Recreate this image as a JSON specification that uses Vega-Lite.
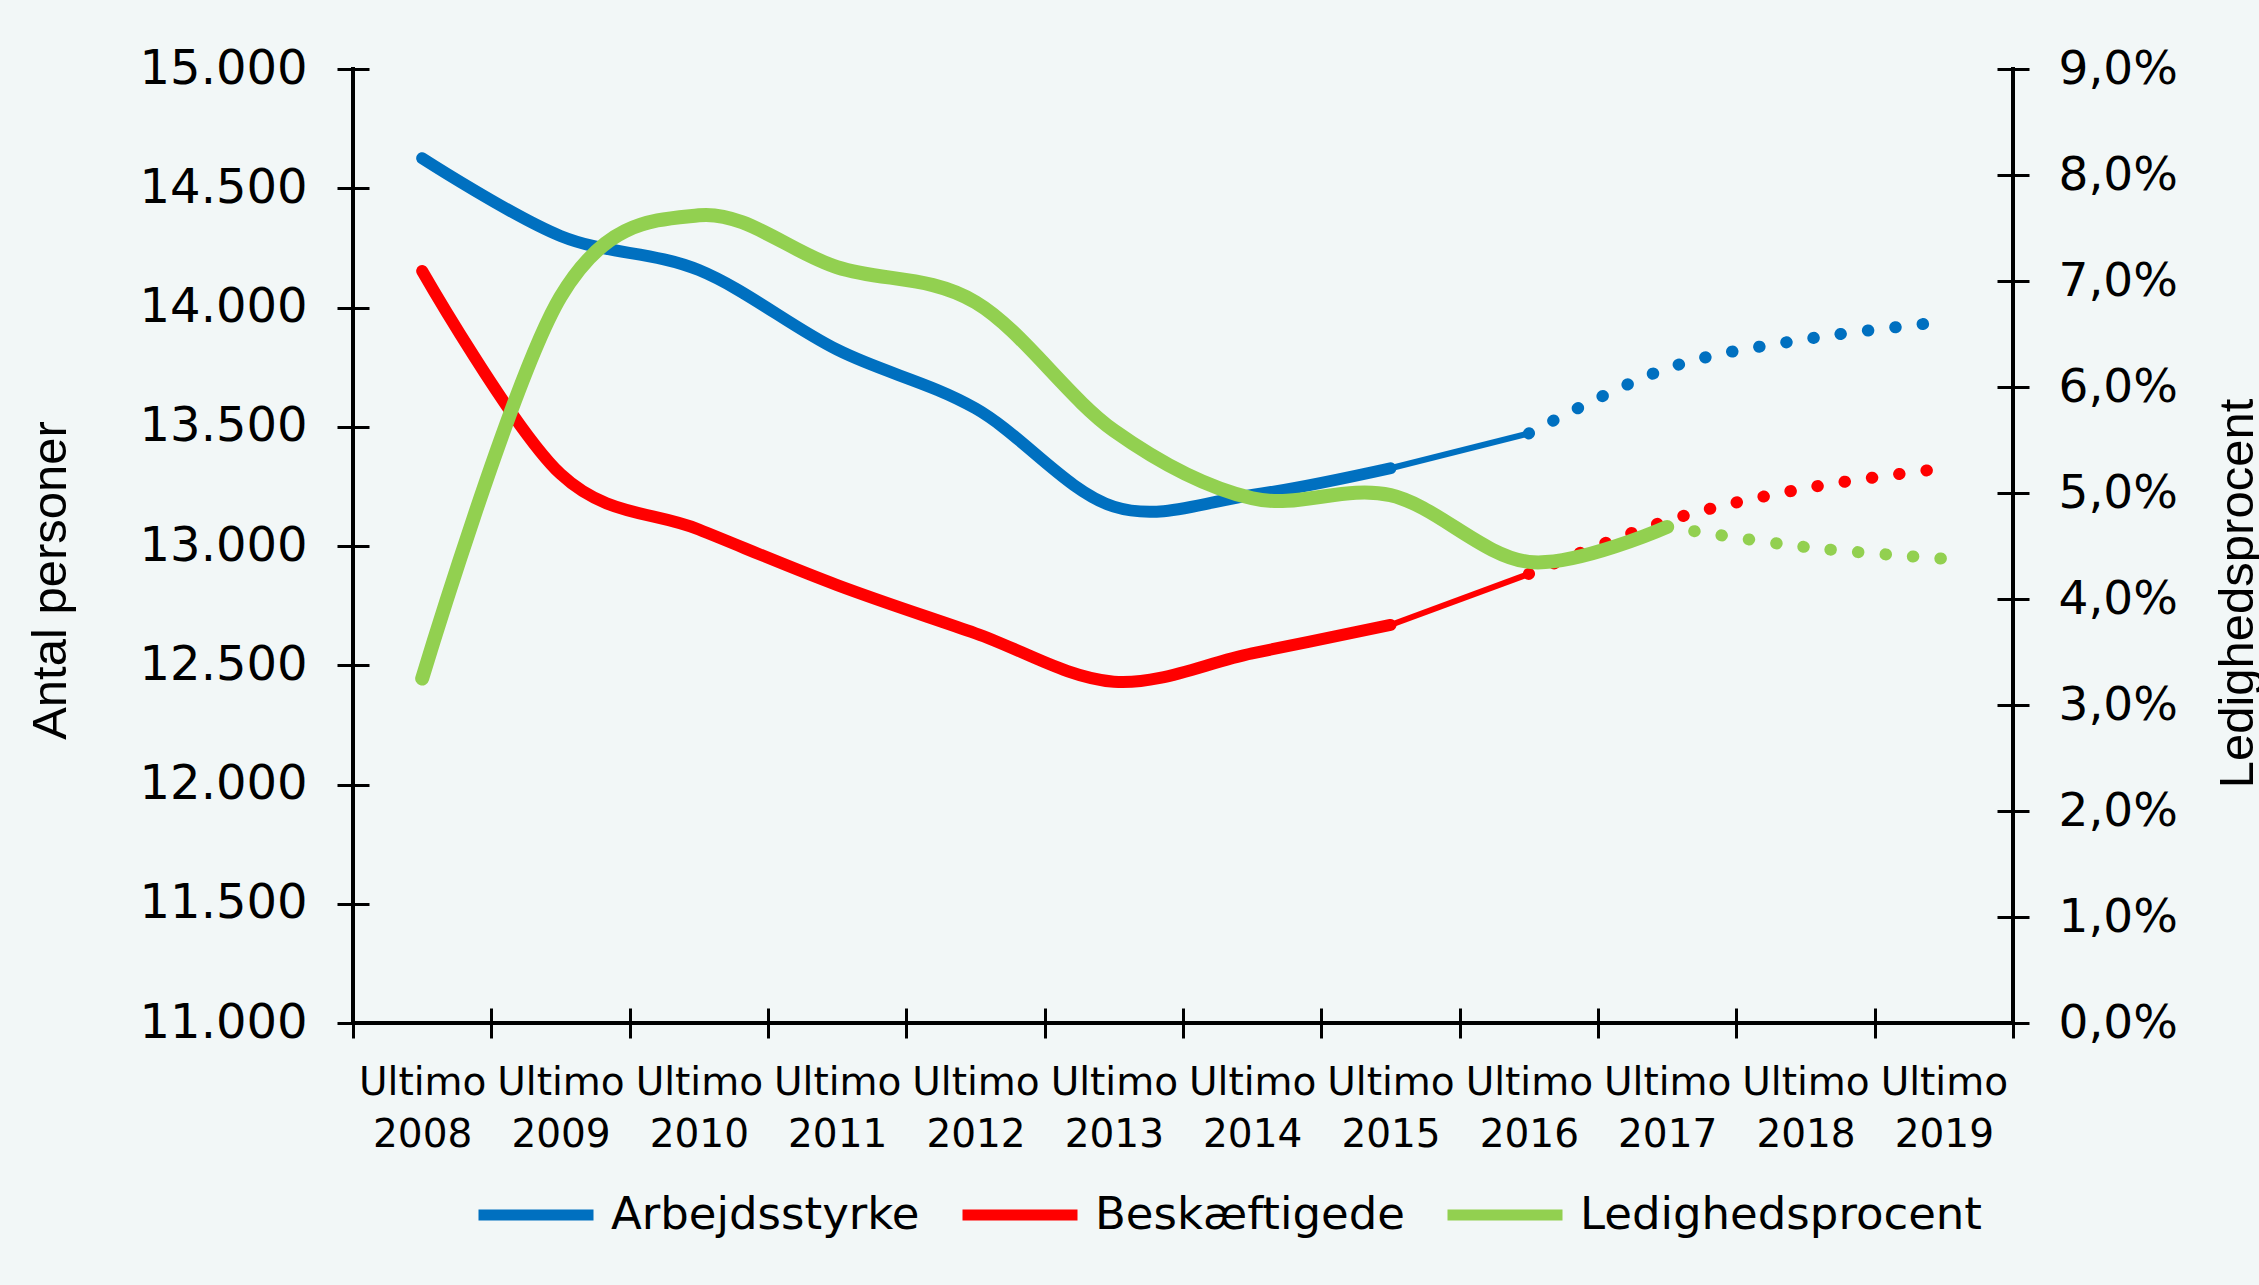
{
  "$schema": "https://vega.github.io/schema/vega-lite/v6.json",
  "width": 1660,
  "height": 954,
  "autosize": {"type": "none"},
  "padding": {"left": 353, "top": 69, "right": 246, "bottom": 262},
  "background": "#f2f7f7",
  "config": {
    "view": {"stroke": null},
    "locale": {"number": {"decimal": ",", "thousands": ".", "grouping": [3], "currency": ["", " kr."]}},
    "axis": {"grid": false}
  },
  "data": {
    "values": [
      {"periode": "Ultimo 2008", "aar": 2008, "Arbejdsstyrke": 14626, "Beskæftigede": 14153, "Ledighedsprocent": 0.0325},
      {"periode": "Ultimo 2009", "aar": 2009, "Arbejdsstyrke": 14300, "Beskæftigede": 13302, "Ledighedsprocent": 0.0685},
      {"periode": "Ultimo 2010", "aar": 2010, "Arbejdsstyrke": 14157, "Beskæftigede": 13069, "Ledighedsprocent": 0.0762},
      {"periode": "Ultimo 2011", "aar": 2011, "Arbejdsstyrke": 13823, "Beskæftigede": 12836, "Ledighedsprocent": 0.0713},
      {"periode": "Ultimo 2012", "aar": 2012, "Arbejdsstyrke": 13577, "Beskæftigede": 12634, "Ledighedsprocent": 0.0680},
      {"periode": "Ultimo 2013", "aar": 2013, "Arbejdsstyrke": 13165, "Beskæftigede": 12431, "Ledighedsprocent": 0.0559},
      {"periode": "Ultimo 2014", "aar": 2014, "Arbejdsstyrke": 13214, "Beskæftigede": 12550, "Ledighedsprocent": 0.0495},
      {"periode": "Ultimo 2015", "aar": 2015, "Arbejdsstyrke": 13326, "Beskæftigede": 12669, "Ledighedsprocent": 0.0498},
      {"periode": "Ultimo 2016", "aar": 2016, "Arbejdsstyrke": 13472, "Beskæftigede": 12883, "Ledighedsprocent": 0.0435},
      {"periode": "Ultimo 2017", "aar": 2017, "Arbejdsstyrke": 13745, "Beskæftigede": 13106, "Ledighedsprocent": 0.0468},
      {"periode": "Ultimo 2018", "aar": 2018, "Arbejdsstyrke": 13867, "Beskæftigede": 13242, "Ledighedsprocent": 0.0449},
      {"periode": "Ultimo 2019", "aar": 2019, "Arbejdsstyrke": 13940, "Beskæftigede": 13326, "Ledighedsprocent": 0.0438}
    ]
  },
  "resolve": {"scale": {"y": "independent"}, "axis": {"y": "independent"}},
  "layer": [
    {
      "transform": [
        {"filter": "datum.aar <= 2015"},
        {"fold": ["Arbejdsstyrke", "Beskæftigede"], "as": ["serie", "antal"]}
      ],
      "mark": {"type": "line", "strokeWidth": 12, "interpolate": "cardinal", "strokeCap": "round"},
      "encoding": {
        "x": {
          "field": "periode", "type": "nominal", "bandPosition": 0.5,
          "scale": {"type": "band", "paddingInner": 0, "paddingOuter": 0},
          "axis": {
            "orient": "bottom", "offset": -15, "domain": false, "tickBand": "extent",
            "tickSize": 30, "tickWidth": 3, "tickColor": "black",
            "labelExpr": "split(datum.label, ' ')", "labelFont": "DejaVu Sans", "labelFontSize": 39,
            "labelColor": "black", "labelLineHeight": 52, "labelPadding": 25, "labelAngle": 0,
            "labelOverlap": false, "labelBound": false, "title": null, "grid": false
          }
        },
        "y": {
          "field": "antal", "type": "quantitative",
          "scale": {"domain": [11000, 15000], "nice": false, "zero": false},
          "axis": {
            "orient": "left",
            "values": [11000, 11500, 12000, 12500, 13000, 13500, 14000, 14500, 15000],
            "format": ",.0f", "domain": false, "offset": -16, "tickSize": 32, "tickWidth": 3, "tickColor": "black",
            "labelFont": "DejaVu Sans", "labelFontSize": 48, "labelColor": "black", "labelPadding": 30,
            "labelOverlap": false, "labelLimit": 400,
            "title": "Antal personer", "titleFont": "Liberation Sans", "titleFontSize": 49,
            "titleFontWeight": "normal", "titleColor": "black", "titleAngle": 270,
            "titleBaseline": "alphabetic", "titleX": -304, "titleY": 511, "grid": false
          }
        },
        "color": {
          "field": "serie", "type": "nominal",
          "scale": {"domain": ["Arbejdsstyrke", "Beskæftigede", "Ledighedsprocent"], "range": ["#0070c0", "#ff0000", "#92d050"]},
          "legend": {
            "orient": "none", "legendX": 120, "legendY": 1083, "direction": "horizontal", "title": null,
            "symbolType": "stroke", "symbolSize": 13225, "symbolStrokeWidth": 11, "symbolDash": [],
            "labelFont": "DejaVu Sans", "labelFontSize": 45, "labelColor": "black", "labelOffset": 12,
            "labelLimit": 600, "columnPadding": 20, "padding": 0
          }
        }
      }
    },
    {
      "transform": [
        {"filter": "datum.aar >= 2015 && datum.aar <= 2016"},
        {"fold": ["Arbejdsstyrke", "Beskæftigede"], "as": ["serie", "antal"]}
      ],
      "mark": {"type": "line", "strokeWidth": 6, "interpolate": "cardinal"},
      "encoding": {
        "x": {"field": "periode", "type": "nominal", "bandPosition": 0.5, "scale": {"type": "band", "paddingInner": 0, "paddingOuter": 0}},
        "y": {"field": "antal", "type": "quantitative", "scale": {"domain": [11000, 15000], "nice": false, "zero": false}, "axis": null},
        "color": {"field": "serie", "type": "nominal", "legend": null}
      }
    },
    {
      "transform": [
        {"filter": "datum.aar >= 2016"},
        {"fold": ["Arbejdsstyrke", "Beskæftigede"], "as": ["serie", "antal"]}
      ],
      "mark": {"type": "line", "strokeWidth": 12, "interpolate": "cardinal", "strokeCap": "round", "strokeDash": [0.5, 27]},
      "encoding": {
        "x": {"field": "periode", "type": "nominal", "bandPosition": 0.5, "scale": {"type": "band", "paddingInner": 0, "paddingOuter": 0}},
        "y": {"field": "antal", "type": "quantitative", "scale": {"domain": [11000, 15000], "nice": false, "zero": false}, "axis": null},
        "color": {"field": "serie", "type": "nominal", "legend": null}
      }
    },
    {
      "transform": [
        {"filter": "datum.aar <= 2017"},
        {"fold": ["Ledighedsprocent"], "as": ["serie", "pct"]}
      ],
      "mark": {"type": "line", "strokeWidth": 14, "interpolate": "cardinal", "strokeCap": "round"},
      "encoding": {
        "x": {"field": "periode", "type": "nominal", "bandPosition": 0.5, "scale": {"type": "band", "paddingInner": 0, "paddingOuter": 0}},
        "y": {
          "field": "pct", "type": "quantitative",
          "scale": {"domain": [0, 0.09], "nice": false, "zero": false},
          "axis": {
            "orient": "right",
            "values": [0, 0.01, 0.02, 0.03, 0.04, 0.05, 0.06, 0.07, 0.08, 0.09],
            "format": ".1%", "domain": false, "offset": -16, "tickSize": 32, "tickWidth": 3, "tickColor": "black",
            "labelFont": "DejaVu Sans", "labelFontSize": 47, "labelColor": "black", "labelPadding": 29,
            "labelOverlap": false,
            "title": "Ledighedsprocent", "titleFont": "Liberation Sans", "titleFontSize": 49,
            "titleFontWeight": "normal", "titleColor": "black", "titleAngle": 270,
            "titleBaseline": "alphabetic", "titleX": 255, "titleY": 524, "grid": false
          }
        },
        "color": {"field": "serie", "type": "nominal", "legend": null}
      }
    },
    {
      "transform": [
        {"filter": "datum.aar >= 2017"},
        {"fold": ["Ledighedsprocent"], "as": ["serie", "pct"]}
      ],
      "mark": {"type": "line", "strokeWidth": 12, "interpolate": "cardinal", "strokeCap": "round", "strokeDash": [0.5, 27]},
      "encoding": {
        "x": {"field": "periode", "type": "nominal", "bandPosition": 0.5, "scale": {"type": "band", "paddingInner": 0, "paddingOuter": 0}},
        "y": {"field": "pct", "type": "quantitative", "scale": {"domain": [0, 0.09], "nice": false, "zero": false}, "axis": null},
        "color": {"field": "serie", "type": "nominal", "legend": null}
      }
    },
    {
      "transform": [{"filter": "datum.aar == 2008"}],
      "mark": {"type": "rule", "color": "black", "strokeWidth": 4, "strokeCap": "square"},
      "encoding": {
        "x": {"field": "periode", "type": "nominal", "bandPosition": 0, "scale": {"type": "band", "paddingInner": 0, "paddingOuter": 0}}
      }
    },
    {
      "transform": [{"filter": "datum.aar == 2019"}],
      "mark": {"type": "rule", "color": "black", "strokeWidth": 4, "strokeCap": "square"},
      "encoding": {
        "x": {"field": "periode", "type": "nominal", "bandPosition": 1, "scale": {"type": "band", "paddingInner": 0, "paddingOuter": 0}}
      }
    },
    {
      "transform": [{"filter": "datum.aar == 2008"}],
      "mark": {"type": "rule", "color": "black", "strokeWidth": 4, "strokeCap": "square"},
      "encoding": {
        "y": {"datum": 11000, "type": "quantitative", "scale": {"domain": [11000, 15000], "nice": false, "zero": false}, "axis": null}
      }
    }
  ]
}
